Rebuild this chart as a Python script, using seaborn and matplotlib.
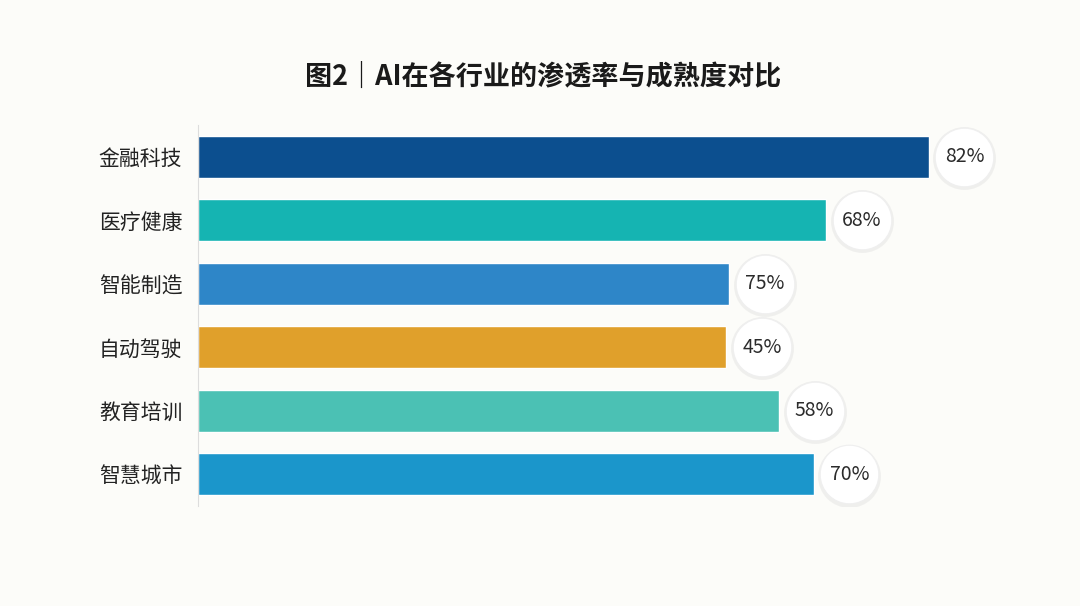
import matplotlib
matplotlib.use('Agg')
import matplotlib.pyplot as plt
import seaborn as sns
import pandas as pd

# 行业、条形长度与圆圈中的标注
industries = ['金融科技', '医疗健康', '智能制造', '自动驾驶', '教育培训', '智慧城市']
bar_values = [82, 70.5, 59.6, 59.3, 65.2, 69.1]
label_values = ['82%', '68%', '75%', '45%', '58%', '70%']
colors = ['#0c4f8f', '#15b4b2', '#2e86c8', '#e0a02b', '#4bc1b4', '#1b96cb']

df = pd.DataFrame({'industry': industries, 'value': bar_values})

sns.set_theme(style='white')
plt.rcParams['font.family'] = ['Noto Sans CJK SC', 'DejaVu Sans']

fig = plt.figure(figsize=(10.8, 6.06), dpi=100)
fig.patch.set_facecolor('#fcfcf9')
ax = fig.add_axes([0.183, 0.165, 0.743, 0.629])
ax.set_facecolor('none')

sns.barplot(data=df, x='value', y='industry', hue='industry', palette=colors,
            width=0.66, legend=False, saturation=1, ax=ax)

# 圆形标注
for i, (v, lab) in enumerate(zip(bar_values, label_values)):
    cx = v + 4.0
    ax.scatter([cx], [i + 0.02], s=2050, color='#d9d9d9', alpha=0.35,
               zorder=3, linewidths=0)
    ax.scatter([cx], [i], s=1780, color='white', edgecolors='#efefef',
               linewidths=0.8, zorder=4)
    ax.text(cx, i, lab, ha='center', va='center', fontsize=14,
            color='#2b2b2b', zorder=5)

ax.set_xlim(0, 90)
ax.set_ylim(5.5, -0.5)
ax.set_xlabel('')
ax.set_ylabel('')
ax.set_xticks([])
ax.tick_params(axis='y', length=0, pad=11, labelsize=15, labelcolor='#222222')
for s in ['top', 'right', 'bottom']:
    ax.spines[s].set_visible(False)
ax.spines['left'].set_color('#dddddd')
ax.spines['left'].set_linewidth(0.8)

fig.text(0.503, 0.873, '图2｜AI在各行业的渗透率与成熟度对比', ha='center', va='center',
         fontsize=19.5, fontweight='bold', color='#1a1a1a')

fig.savefig('out.png', dpi=100, facecolor=fig.get_facecolor())
